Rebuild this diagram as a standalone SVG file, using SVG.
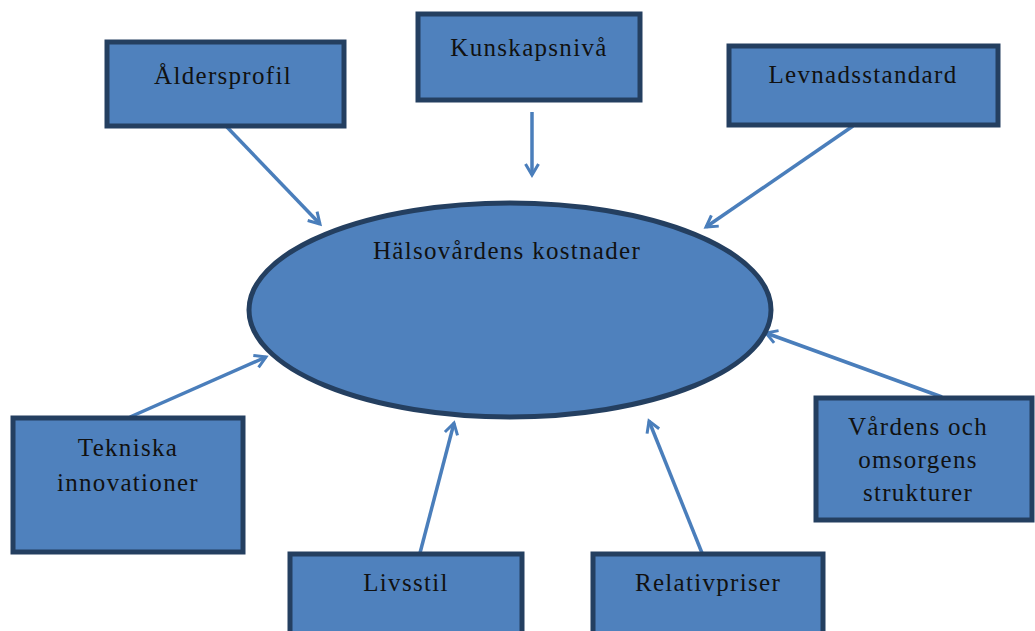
<svg xmlns="http://www.w3.org/2000/svg" width="1035" height="631" viewBox="0 0 1035 631">
<defs>
<marker id="ah" markerWidth="16" markerHeight="16" refX="13" refY="8" orient="auto" markerUnits="userSpaceOnUse">
<polyline points="2,1.5 13,8 2,14.5" fill="none" stroke="#4A7EBB" stroke-width="3"/>
</marker>
</defs>
<style>
.box{fill:#4F81BD;stroke:#243F60;stroke-width:5}
.t{font-family:"Liberation Serif",serif;font-size:25px;fill:#111;text-anchor:middle;letter-spacing:1.3px}
.c{stroke:#4A7EBB;stroke-width:3.5;fill:none;marker-end:url(#ah)}
</style>
<rect width="1035" height="631" fill="#fff"/>
<g id="connectors">
<line class="c" x1="225" y1="125" x2="320" y2="224"/>
<line class="c" x1="532" y1="112" x2="532" y2="175"/>
<line class="c" x1="853" y1="126" x2="706" y2="227"/>
<line class="c" x1="130" y1="417" x2="266" y2="357"/>
<line class="c" x1="420" y1="553" x2="454" y2="423"/>
<line class="c" x1="702" y1="553" x2="649" y2="421"/>
<line class="c" x1="942" y1="397" x2="766" y2="333"/>
</g>
<g id="center">
<ellipse cx="510" cy="310" rx="261" ry="107" class="box"/>
<text class="t" x="507" y="259">Hälsovårdens kostnader</text>
</g>
<g id="aldersprofil">
<rect class="box" x="107" y="42" width="237" height="84"/>
<text class="t" x="223" y="84">Åldersprofil</text>
</g>
<g id="kunskapsniva">
<rect class="box" x="418" y="14" width="222" height="86"/>
<text class="t" x="529" y="56">Kunskapsnivå</text>
</g>
<g id="levnadsstandard">
<rect class="box" x="729" y="46" width="269" height="79"/>
<text class="t" x="863" y="83">Levnadsstandard</text>
</g>
<g id="tekniska">
<rect class="box" x="13" y="418" width="230" height="134"/>
<text class="t" x="128" y="456">Tekniska</text>
<text class="t" x="128" y="491">innovationer</text>
</g>
<g id="livsstil">
<rect class="box" x="290" y="554" width="232" height="90"/>
<text class="t" x="406" y="591">Livsstil</text>
</g>
<g id="relativpriser">
<rect class="box" x="593" y="554" width="230" height="90"/>
<text class="t" x="708" y="591">Relativpriser</text>
</g>
<g id="vardens">
<rect class="box" x="816" y="398" width="216" height="122"/>
<text class="t" x="918" y="435">Vårdens och</text>
<text class="t" x="918" y="468">omsorgens</text>
<text class="t" x="918" y="501">strukturer</text>
</g>
</svg>
